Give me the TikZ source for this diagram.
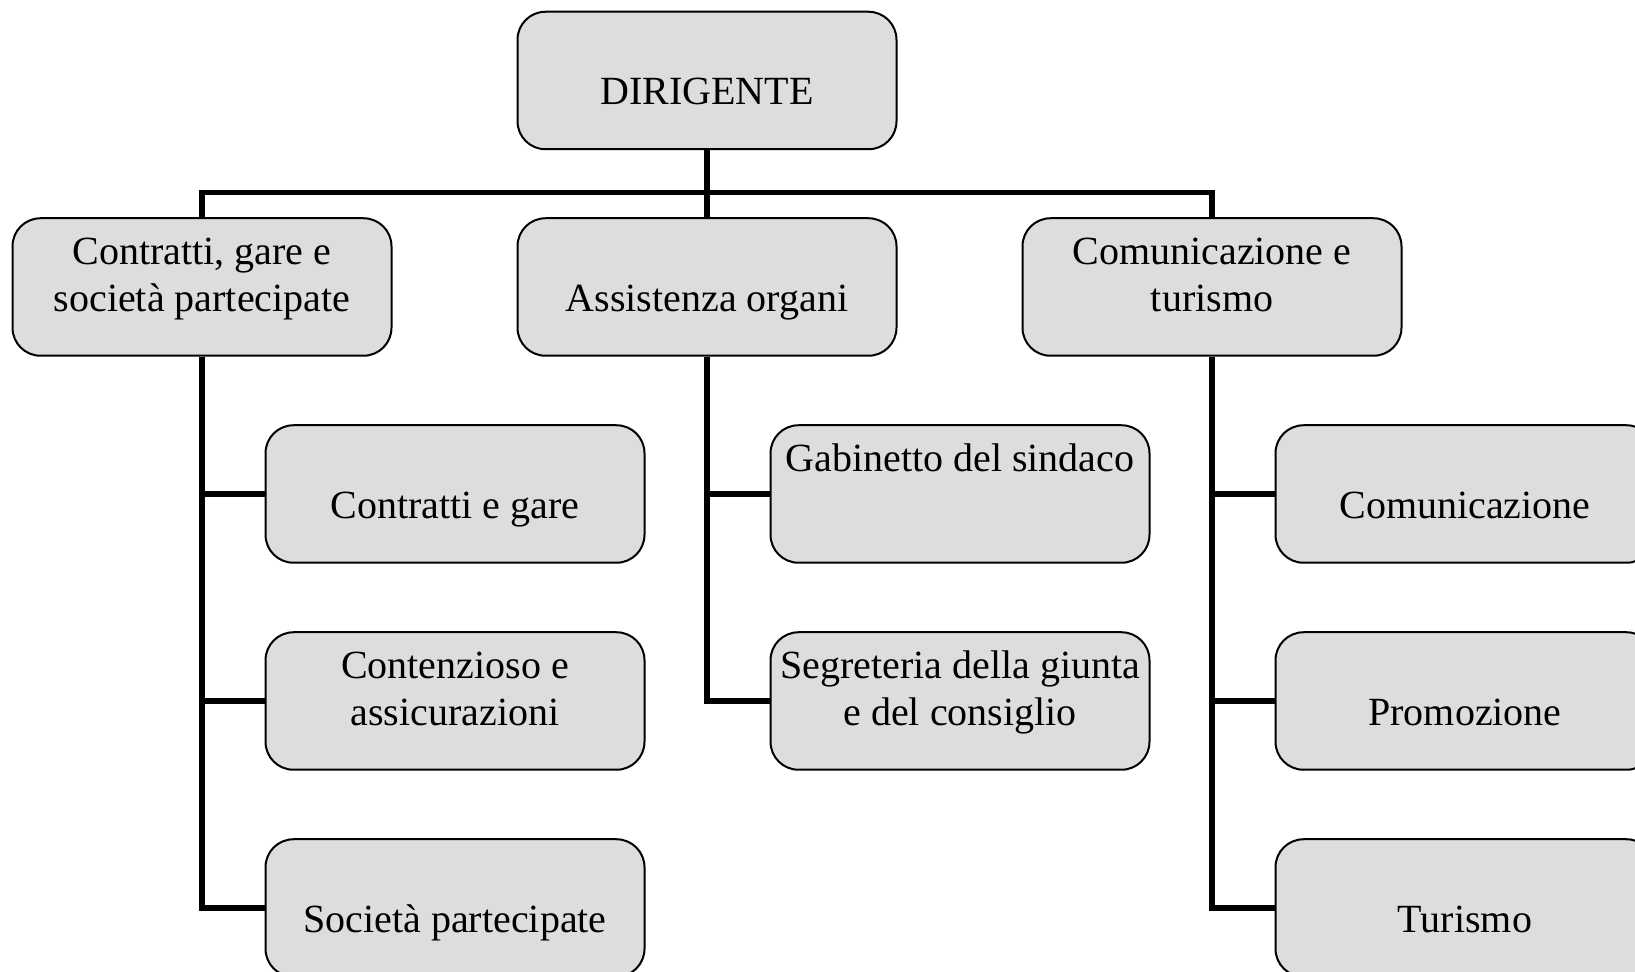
\documentclass[tikz,border=0pt]{standalone}
\usepackage{fontspec}
\setmainfont{Liberation Serif}
\definecolor{boxfill}{RGB}{221,221,221}
\begin{document}
\begin{tikzpicture}[x=0.5pt,y=-0.5pt,
  box/.style={draw=black, line width=1pt, fill=boxfill, rounded corners=14pt,
    minimum width=189.5pt, minimum height=68.75pt, inner sep=0pt},
  conn/.style={line width=2.6pt, draw=black},
  txt/.style={anchor=base, inner sep=0pt, font=\fontsize{20}{23.5}\selectfont}]
\useasboundingbox (0,0) rectangle (1635,972);
\clip (0,0) rectangle (1635,972);
% boxes
\node[box] (dir) at (707,80.5) {};
\node[box] (l1a) at (202,287) {};
\node[box] (l1b) at (707,287) {};
\node[box] (l1c) at (1212,287) {};
\node[box] (a1) at (455,494) {};
\node[box] (a2) at (455,701) {};
\node[box] (a3) at (455,908) {};
\node[box] (b1) at (960,494) {};
\node[box] (b2) at (960,701) {};
\node[box] (c1) at (1465,494) {};
\node[box] (c2) at (1465,701) {};
\node[box] (c3) at (1465,908) {};
% connectors
\coordinate (bar) at (707,192.5);
\draw[conn] (dir.south) -- (l1b.north);
\draw[conn] (l1a.north) |- (bar) -| (l1c.north);
\draw[conn] (l1a.south) |- (a3.west);
\draw[conn] (l1a.south |- a1.west) -- (a1.west);
\draw[conn] (l1a.south |- a2.west) -- (a2.west);
\draw[conn] (l1b.south) |- (b2.west);
\draw[conn] (l1b.south |- b1.west) -- (b1.west);
\draw[conn] (l1c.south) |- (c3.west);
\draw[conn] (l1c.south |- c1.west) -- (c1.west);
\draw[conn] (l1c.south |- c2.west) -- (c2.west);
% texts
\node[txt] (tdir) at ([yshift=-47pt]dir.north) {DIRIGENTE};
\node[txt] (tl1a) at ([yshift=-23.5pt]l1a.north) {\begin{tabular}[t]{@{}c@{}}Contratti, gare e\\società partecipate\end{tabular}};
\node[txt] (tl1b) at ([yshift=-47pt]l1b.north) {Assistenza organi};
\node[txt] (tl1c) at ([yshift=-23.5pt]l1c.north) {\begin{tabular}[t]{@{}c@{}}Comunicazione e\\turismo\end{tabular}};
\node[txt] (ta1) at ([yshift=-47pt]a1.north) {Contratti e gare};
\node[txt] (ta2) at ([yshift=-23.5pt]a2.north) {\begin{tabular}[t]{@{}c@{}}Contenzioso e\\assicurazioni\end{tabular}};
\node[txt] (ta3) at ([yshift=-47pt]a3.north) {Società partecipate};
\node[txt] (tb1) at ([yshift=-23.5pt]b1.north) {Gabinetto del sindaco};
\node[txt] (tb2) at ([yshift=-23.5pt]b2.north) {\begin{tabular}[t]{@{}c@{}}Segreteria della giunta\\e del consiglio\end{tabular}};
\node[txt] (tc1) at ([yshift=-47pt]c1.north) {Comunicazione};
\node[txt] (tc2) at ([yshift=-47pt]c2.north) {Promozione};
\node[txt] (tc3) at ([yshift=-47pt]c3.north) {Turismo};
\end{tikzpicture}
\end{document}
